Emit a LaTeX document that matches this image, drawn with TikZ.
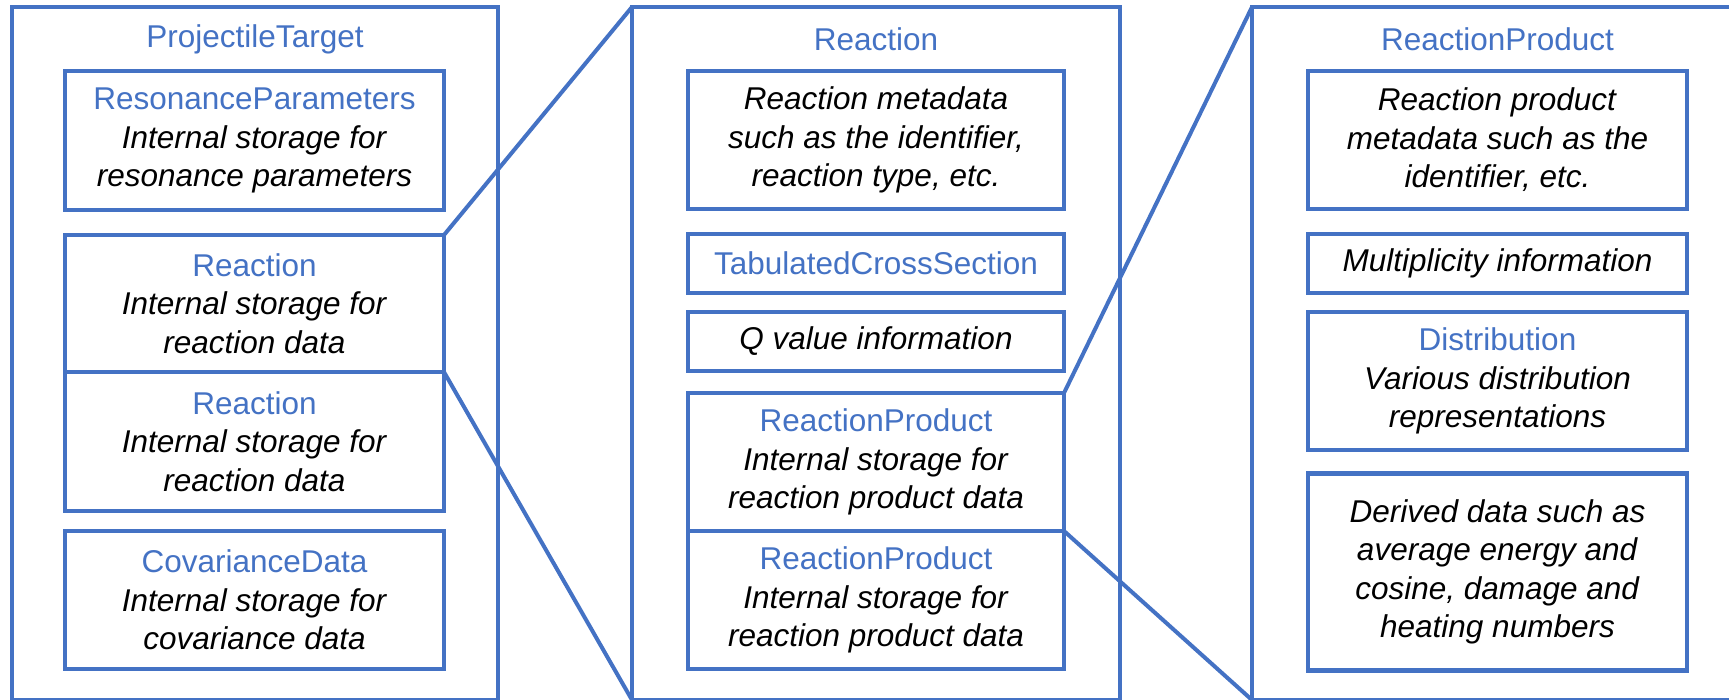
\documentclass[tikz,border=0pt]{standalone}
\usepackage{fontspec}
\setmainfont{Liberation Sans}
\definecolor{obl}{HTML}{4472C4}
\begin{document}
\begin{tikzpicture}[x=1pt,y=-1pt,
  every node/.style={font=\fontsize{31.5pt}{38.4pt}\selectfont},
  frame/.style={draw=obl, line width=4.5pt, outer sep=0pt, inner sep=0pt, anchor=north west},
  box/.style={draw=obl, line width=4.5pt, outer sep=0pt, inner sep=0pt, align=center, fill=white},
  ttl/.style={text=obl, inner sep=0pt},
  conn/.style={draw=obl, line width=4pt}]
\useasboundingbox (0,0) rectangle (1729,700);
\clip (0,0) rectangle (1729,700);
% frames
\node[frame, minimum width=486pt, minimum height=693pt] (fL) at (12,7) {};
\node[frame, minimum width=488pt, minimum height=693pt] (fM) at (632,7) {};
\node[frame, minimum width=488pt, minimum height=693pt] (fR) at (1252,7) {};
% titles
\node[ttl] (tL) at (255,39) {ProjectileTarget};
\node[ttl] (tM) at (876,39) {Reaction};
\node[ttl] (tR) at (1497.5,39) {ReactionProduct};
% left column
\node[box, minimum width=379pt, minimum height=139pt] (rp) at (254.5,140.5)
  {\textcolor{obl}{ResonanceParameters}\\\textit{Internal storage for}\\\textit{resonance parameters}};
\node[box, minimum width=379pt, minimum height=137pt] (r1) at (254.5,303.5)
  {\textcolor{obl}{Reaction}\\\textit{Internal storage for}\\\textit{reaction data}};
\node[box, minimum width=379pt, minimum height=139pt] (r2) at (254.5,441.5)
  {\textcolor{obl}{Reaction}\\\textit{Internal storage for}\\\textit{reaction data}};
\node[box, minimum width=379pt, minimum height=138pt] (cd) at (254.5,600)
  {\textcolor{obl}{CovarianceData}\\\textit{Internal storage for}\\\textit{covariance data}};
% middle column
\node[box, minimum width=376pt, minimum height=138pt] (rm) at (876,140)
  {\textit{Reaction metadata}\\\textit{such as the identifier,}\\\textit{reaction type, etc.}};
\node[box, minimum width=376pt, minimum height=59pt] (tcs) at (876,263.5)
  {\textcolor{obl}{TabulatedCrossSection}};
\node[box, minimum width=376pt, minimum height=59pt] (qv) at (876,341.5)
  {\textit{Q value information}};
\node[box, minimum width=376pt, minimum height=138pt] (p1) at (876,462)
  {\textcolor{obl}{ReactionProduct}\\\textit{Internal storage for}\\\textit{reaction product data}};
\node[box, minimum width=376pt, minimum height=138pt] (p2) at (876,600)
  {\textcolor{obl}{ReactionProduct}\\\textit{Internal storage for}\\\textit{reaction product data}};
% right column
\node[box, minimum width=379pt, minimum height=138pt] (pm) at (1497.5,140)
  {\textit{Reaction product}\\\textit{metadata such as the}\\\textit{identifier, etc.}};
\node[box, minimum width=379pt, minimum height=59pt] (mu) at (1497.5,263.5)
  {\textit{Multiplicity information}};
\node[box, minimum width=379pt, minimum height=138pt] (di) at (1497.5,381)
  {\textcolor{obl}{Distribution}\\\textit{Various distribution}\\\textit{representations}};
\node[box, minimum width=379pt, minimum height=197pt] (dd) at (1497.5,572)
  {\textit{Derived data such as}\\\textit{average energy and}\\\textit{cosine, damage and}\\\textit{heating numbers}};
% connectors
\draw[conn] (r1.north east) -- (fM.north west);
\draw[conn] (r1.south east) -- (fM.south west);
\draw[conn] (p1.north east) -- (fR.north west);
\draw[conn] (p1.south east) -- (fR.south west);
\end{tikzpicture}
\end{document}
